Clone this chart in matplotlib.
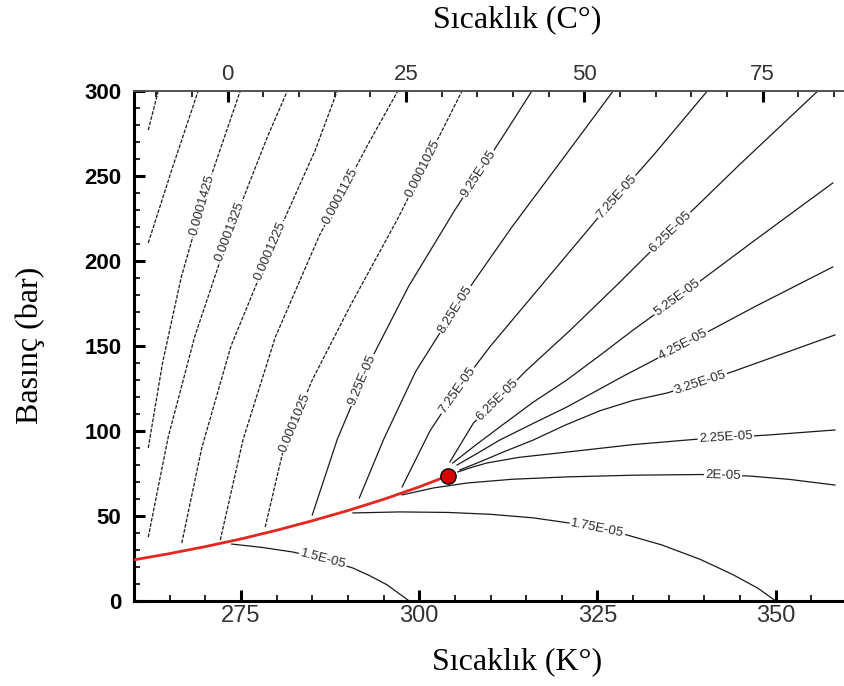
import numpy as np
import matplotlib.pyplot as plt
from matplotlib.ticker import MultipleLocator, FixedLocator

# CO2 saturation curve and critical point (K, bar)
sat_T = [260, 265, 270, 275, 280, 285, 290, 295, 300, 304.1]
sat_P = [24.2, 27.9, 32.0, 36.5, 41.6, 47.2, 53.2, 59.8, 67.1, 73.8]
crit_T, crit_P = 304.1, 73.8

# iso-viscosity lines (Pa.s): temperature (K), pressure (bar)
v1625_T = [262.0, 263.4]
v1625_P = [277, 300]
v1525_T = [262.0, 265.4, 269.0]
v1525_P = [210.6, 255.0, 300]
v1425_T = [262.0, 264.0, 266.6, 270.0, 274.9]
v1425_P = [90.0, 140.0, 190.0, 240.0, 300]
v1325_T = [262.0, 264.8, 268.5, 273.2, 278.7, 281.5]
v1325_P = [37.6, 96.5, 155.3, 214.1, 272.9, 300]
v1225_T = [266.7, 269.5, 273.6, 279.0, 285.4, 288.5]
v1225_P = [34.1, 90.0, 150.0, 205.0, 265.0, 300]
v1125_T = [272.1, 275.3, 279.8, 286.0, 293.0, 297.0]
v1125_P = [35.9, 95.0, 155.0, 215.0, 270.0, 300]
v1025_T = [278.4, 281.0, 285.0, 290.5, 297.0, 303.0, 306.0]
v1025_P = [43.5, 90.0, 130.0, 175.0, 225.0, 275.0, 300]
v925_T = [285.0, 288.5, 293.0, 298.5, 305.0, 312.0, 315.8]
v925_P = [50.6, 95.0, 140.0, 185.0, 230.0, 275.0, 300]
v825_T = [291.6, 295.0, 299.5, 305.5, 313.0, 321.0, 327.2]
v825_P = [60.6, 95.0, 135.0, 175.0, 220.0, 265.0, 300]
v725_T = [297.6, 301.5, 305.3, 310.0, 317.0, 325.0, 333.0, 340.4]
v725_P = [67.1, 100.0, 124.1, 150.0, 185.0, 225.0, 263.0, 300]
v625_T = [304.3, 307.6, 310.9, 315.1, 321.2, 328.0, 335.2, 345.0, 355.9]
v625_P = [81.8, 104.7, 118.2, 135.9, 159.4, 187.0, 217.1, 257.0, 300]
v525_T = [304.7, 308.0, 311.3, 316.0, 320.7, 325.5, 330.0, 336.2, 347.0, 358.0]
v525_P = [81.2, 92.0, 102.4, 117.0, 130.0, 145.0, 159.4, 178.2, 212.0, 245.9]
v425_T = [305.3, 308.0, 311.3, 316.0, 320.7, 328.5, 337.0, 347.0, 358.0]
v425_P = [80.0, 86.5, 94.7, 104.5, 114.1, 132.0, 150.6, 173.0, 196.5]
v325_T = [305.7, 308.5, 312.0, 316.0, 320.5, 325.4, 330.0, 334.8, 339.4, 344.0, 351.0, 358.3]
v325_P = [77.1, 81.8, 88.0, 94.7, 103.5, 112.0, 118.0, 122.4, 128.5, 135.0, 145.5, 156.5]
v225_T = [305.4, 307.5, 309.5, 314.0, 320.7, 330.0, 339.0, 348.8, 358.3]
v225_P = [75.9, 78.8, 81.2, 84.5, 87.6, 92.0, 95.2, 97.6, 100.6]
v200_T = [297.6, 302.0, 306.7, 313.0, 320.7, 330.0, 339.4, 346.4, 352.0, 358.3]
v200_P = [62.4, 66.5, 69.4, 71.6, 73.0, 74.0, 74.4, 73.5, 71.5, 68.2]
v175_T = [290.7, 297.3, 304.0, 310.0, 316.0, 322.0, 328.0, 334.0, 339.4, 344.0, 347.5, 350.0]
v175_P = [51.8, 52.4, 52.1, 51.0, 48.9, 45.3, 40.2, 33.0, 24.5, 15.5, 7.5, 0]
v150_T = [273.7, 278.0, 282.3, 286.5, 290.7, 293.0, 295.5, 298.6]
v150_P = [33.5, 31.5, 28.8, 24.7, 19.4, 15.0, 9.5, 0]

# (label, T, P, label temperatures, steep line drawn finely dashed like the scan)
lines = [
    (None, v1625_T, v1625_P, [], True),
    (None, v1525_T, v1525_P, [], True),
    ("0.0001425", v1425_T, v1425_P, [269.5], True),
    ("0.0001325", v1325_T, v1325_P, [273.5], True),
    ("0.0001225", v1225_T, v1225_P, [279.1], True),
    ("0.0001125", v1125_T, v1125_P, [288.9], True),
    ("0.0001025", v1025_T, v1025_P, [300.5, 282.5], True),
    ("9.25E-05", v925_T, v925_P, [308.3, 292.0], False),
    ("8.25E-05", v825_T, v825_P, [305.0], False),
    ("7.25E-05", v725_T, v725_P, [327.7, 305.3], False),
    ("6.25E-05", v625_T, v625_P, [335.2, 310.9], False),
    ("5.25E-05", v525_T, v525_P, [336.2], False),
    ("4.25E-05", v425_T, v425_P, [337.0], False),
    ("3.25E-05", v325_T, v325_P, [339.4], False),
    ("2.25E-05", v225_T, v225_P, [343.0], False),
    ("2E-05", v200_T, v200_P, [342.6], False),
    ("1.75E-05", v175_T, v175_P, [325.0], False),
    ("1.5E-05", v150_T, v150_P, [286.5], False),
]

fig = plt.figure(figsize=(8.44, 6.86), dpi=100)
ax = fig.add_axes([134 / 844, 85 / 686, 709.5 / 844, 510 / 686])
ax.set_xlim(260, 359.5)
ax.set_ylim(0, 300)

for text, T, P, label_T, dashed in lines:
    ls = (0, (3.0, 1.2)) if dashed else "-"
    ax.plot(T, P, color="#1a1a1a", lw=0.9, ls=ls, zorder=2)
    for lt in label_T:
        lp = np.interp(lt, T, P)
        a = ax.transData.transform((lt - 0.5, np.interp(lt - 0.5, T, P)))
        b = ax.transData.transform((lt + 0.5, np.interp(lt + 0.5, T, P)))
        ang = np.degrees(np.arctan2(b[1] - a[1], b[0] - a[0]))
        ax.text(lt, lp, text, rotation=ang, rotation_mode="anchor",
                ha="center", va="center", fontsize=9.5, color="#2a2a2a",
                family="Liberation Sans", zorder=3,
                bbox=dict(boxstyle="square,pad=0.1", fc="white", ec="none"))

ax.plot(sat_T, sat_P, color="#e3261f", lw=2.0, zorder=4)
ax.plot([crit_T], [crit_P], marker="o", ms=11, mfc="#d60000", mec="black",
        mew=1.0, zorder=5)

# axes styling
ax.spines["right"].set_visible(False)
ax.spines["left"].set_linewidth(2.2)
ax.spines["bottom"].set_linewidth(2.2)
ax.spines["top"].set_linewidth(1.3)
ax.spines["top"].set_color("#555555")

ax.xaxis.set_major_locator(FixedLocator([275, 300, 325, 350]))
ax.xaxis.set_minor_locator(MultipleLocator(5))
ax.yaxis.set_major_locator(MultipleLocator(50))
ax.yaxis.set_minor_locator(MultipleLocator(10))
ax.tick_params(which="major", direction="in", length=8, width=2.2)
ax.tick_params(which="minor", direction="in", length=4, width=1.2)
ax.tick_params(axis="x", labelsize=17, pad=3, labelcolor="#333333")
ax.tick_params(axis="y", labelsize=16, pad=9)
for lab in ax.get_xticklabels() + ax.get_yticklabels():
    lab.set_family("Liberation Sans")
for lab in ax.get_yticklabels():
    lab.set_fontweight("bold")

top = ax.secondary_xaxis("top", functions=(lambda t: t - 273.15, lambda c: c + 273.15))
top.xaxis.set_major_locator(FixedLocator([0, 25, 50, 75]))
top.xaxis.set_minor_locator(MultipleLocator(5))
top.tick_params(which="major", direction="in", length=8, width=2.2, labelsize=16,
                pad=4, labelcolor="#333333")
top.tick_params(which="minor", direction="in", length=4, width=1.2)
for lab in top.get_xticklabels():
    lab.set_family("Liberation Sans")
top.spines["top"].set_linewidth(1.3)
top.spines["top"].set_color("#555555")

fig.text(517 / 844, 1 - 20 / 686, "Sıcaklık (C°)", ha="center", va="center",
         family="Liberation Serif", fontsize=23)
fig.text(517 / 844, 1 - 662 / 686, "Sıcaklık (K°)", ha="center", va="center",
         family="Liberation Serif", fontsize=23)
fig.text(30 / 844, 1 - 345 / 686, "Basınç (bar)", ha="center", va="center",
         rotation=90, family="Liberation Serif", fontsize=23)

fig.savefig("out.png", dpi=100)
